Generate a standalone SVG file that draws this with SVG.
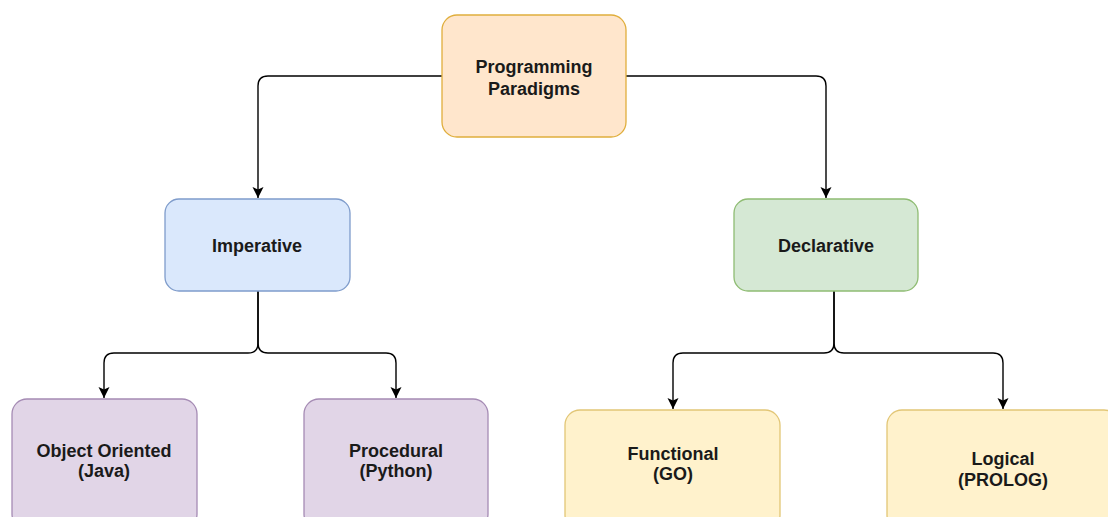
<svg xmlns="http://www.w3.org/2000/svg" width="1108" height="517" viewBox="0 0 1108 517">
<defs>
<marker id="arr" markerWidth="14" markerHeight="14" refX="12" refY="7" orient="auto" markerUnits="userSpaceOnUse">
<path d="M1,1.5 L12,7 L1,12.5 L3.5,7 Z" fill="#000"/>
</marker>
<style>
.box{stroke-width:1.3}
.orange{fill:#ffe6cc;stroke:#e0ae3c}
.blue{fill:#dae8fc;stroke:#7f9ccb}
.green{fill:#d5e8d4;stroke:#8fbc73}
.purple{fill:#e1d5e7;stroke:#a58bb4}
.yellow{fill:#fff2cc;stroke:#e2c676}
.lbl{font-family:"Liberation Sans",Arial,sans-serif;font-weight:bold;font-size:18px;fill:#1a1a1a;text-anchor:middle}
.edge{fill:none;stroke:#000;stroke-width:1.4;marker-end:url(#arr)}
</style>
</defs>
<rect width="1108" height="517" fill="#fff"/>
<g id="connectors">
<path class="edge" d="M442,76 H268 Q258,76 258,86 V198"/>
<path class="edge" d="M626,76 H816 Q826,76 826,86 V198"/>
<path class="edge" d="M258,291 V343 Q258,353 248,353 H114 Q104,353 104,363 V398"/>
<path class="edge" d="M258,291 V343 Q258,353 268,353 H386 Q396,353 396,363 V398"/>
<path class="edge" d="M834,291 V343 Q834,353 824,353 H683 Q673,353 673,363 V409"/>
<path class="edge" d="M834,291 V343 Q834,353 844,353 H993 Q1003,353 1003,363 V409"/>
</g>
<g id="paradigms">
<rect class="box orange" x="442" y="15" width="184" height="122" rx="15"/>
<text class="lbl" x="534" y="73">Programming</text>
<text class="lbl" x="534" y="95">Paradigms</text>
</g>
<g id="imperative">
<rect class="box blue" x="165" y="199" width="185" height="92" rx="14"/>
<text class="lbl" x="257" y="252">Imperative</text>
</g>
<g id="declarative">
<rect class="box green" x="734" y="199" width="184" height="92" rx="14"/>
<text class="lbl" x="826" y="252">Declarative</text>
</g>
<g id="object-oriented">
<rect class="box purple" x="12" y="399" width="185" height="130" rx="15"/>
<text class="lbl" x="104" y="457">Object Oriented</text>
<text class="lbl" x="104" y="477">(Java)</text>
</g>
<g id="procedural">
<rect class="box purple" x="304" y="399" width="184" height="130" rx="15"/>
<text class="lbl" x="396" y="457">Procedural</text>
<text class="lbl" x="396" y="477">(Python)</text>
</g>
<g id="functional">
<rect class="box yellow" x="565" y="410" width="215" height="120" rx="15"/>
<text class="lbl" x="673" y="460">Functional</text>
<text class="lbl" x="673" y="480">(GO)</text>
</g>
<g id="logical">
<rect class="box yellow" x="887" y="410" width="232" height="120" rx="15"/>
<text class="lbl" x="1003" y="465">Logical</text>
<text class="lbl" x="1003" y="486">(PROLOG)</text>
</g>
</svg>
